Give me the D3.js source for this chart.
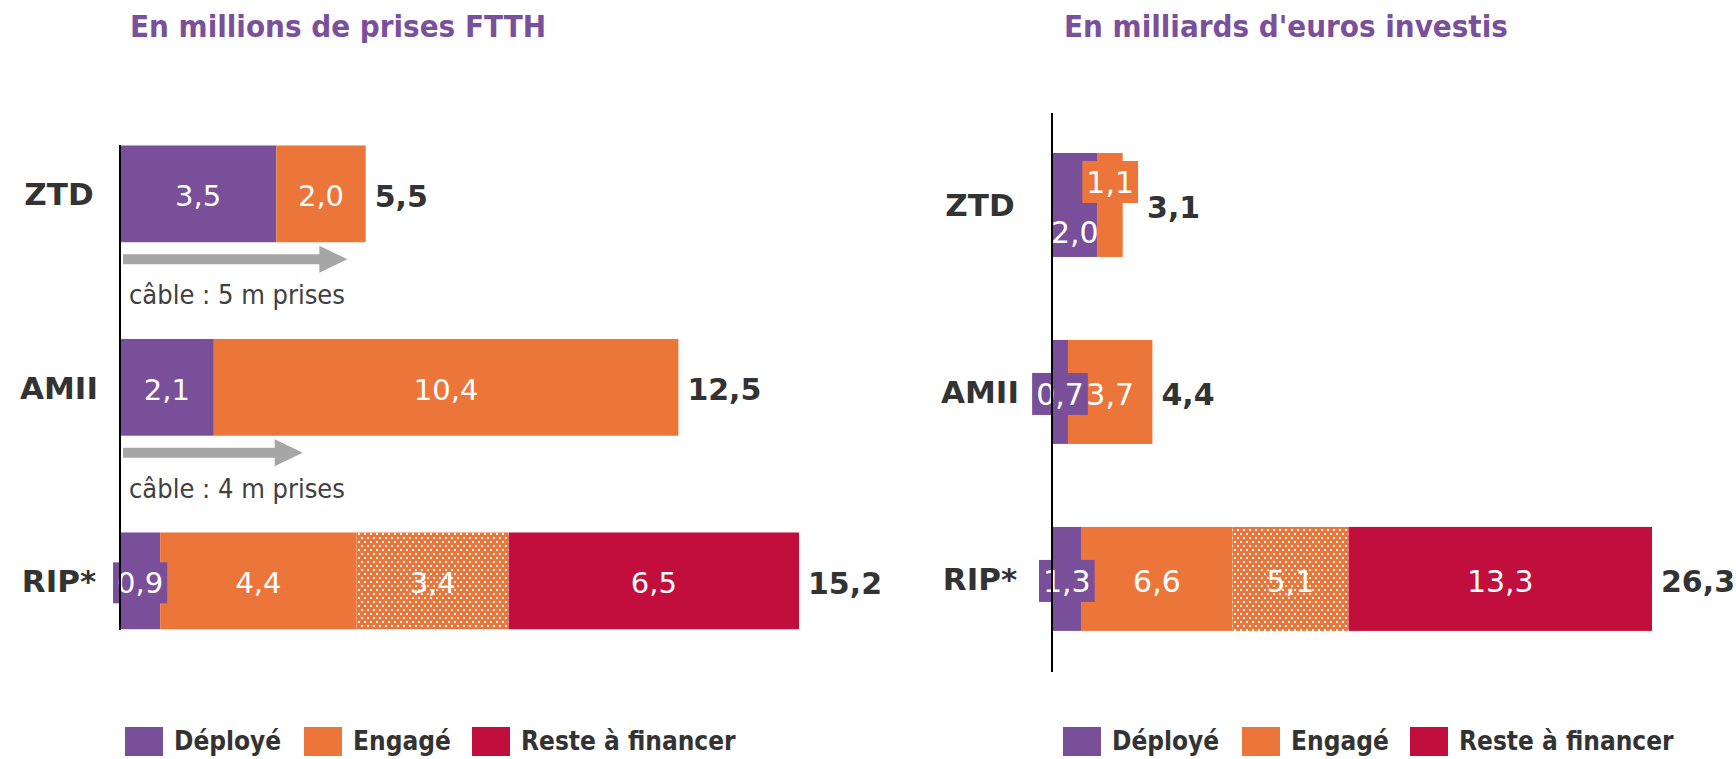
<!DOCTYPE html>
<html>
<head>
<meta charset="utf-8">
<script src="https://cdn.jsdelivr.net/npm/d3@7"></script>
<style>
  html, body { margin: 0; padding: 0; background: #ffffff; }
  svg { display: block; }
  text { font-family: "DejaVu Sans Condensed", "DejaVu Sans", sans-serif; font-stretch: condensed; }
  text.wide { font-family: "DejaVu Sans", sans-serif; font-stretch: normal; }
</style>
</head>
<body>
<svg id="chart" width="1736" height="759"></svg>
<script>
// ---------- DATA ----------
const categories = ["ZTD", "AMII", "RIP*"];
const legendLabels = ["Déployé", "Engagé", "Reste à financer"];

// Left: millions de prises FTTH
const titlePrises = "En millions de prises FTTH";
const prisesDeploye = [3.5, 2.1, 0.9];
const prisesEngage = [2.0, 10.4, 4.4];
const prisesEngagePointille = [0, 0, 3.4];
const prisesReste = [0, 0, 6.5];
const prisesTotal = [5.5, 12.5, 15.2];
const cableValues = [5, 4, null];
const cableLabels = ["câble : 5 m prises", "câble : 4 m prises", null];

// Right: milliards d'euros investis
const titleEuros = "En milliards d'euros investis";
const eurosDeploye = [2.0, 0.7, 1.3];
const eurosEngage = [1.1, 3.7, 6.6];
const eurosEngagePointille = [0, 0, 5.1];
const eurosReste = [0, 0, 13.3];
const eurosTotal = [3.1, 4.4, 26.3];

// ---------- STYLE ----------
const COL = { purple: "#7A4F99", orange: "#EC753A", red: "#C20E3C", dark: "#333333", title: "#7A4F9B", grey: "#A6A6A6" };
const fr = d3.formatLocale({ decimal: ",", thousands: " ", grouping: [3], currency: ["", " €"] });
const fmt = fr.format(".1f");

const svg = d3.select("#chart");
const defs = svg.append("defs");
const pat = defs.append("pattern").attr("id", "dots").attr("patternUnits", "userSpaceOnUse")
  .attr("width", 6).attr("height", 8);
pat.append("rect").attr("width", 6).attr("height", 8).attr("fill", COL.orange);
pat.append("rect").attr("x", 1).attr("y", 1).attr("width", 2).attr("height", 2).attr("fill", "#fff");
pat.append("rect").attr("x", 4).attr("y", 5).attr("width", 2).attr("height", 2).attr("fill", "#fff");

function drawPanel(cfg) {
  const g = svg.append("g");
  const x = d3.scaleLinear().domain([0, d3.max(cfg.total)]).range(cfg.xRange);
  const y = d3.scaleBand().domain(categories).range(cfg.yRange).paddingInner(cfg.padInner).paddingOuter(0.25);

  // title
  g.append("text").attr("x", cfg.titleX).attr("y", 37).attr("fill", COL.title)
    .attr("font-weight", "bold").attr("font-size", 31).text(cfg.title);

  const seriesDefs = [
    { vals: cfg.deploye, fill: COL.purple, box: COL.purple },
    { vals: cfg.engage, fill: COL.orange, box: COL.orange },
    { vals: cfg.pointille, fill: "url(#dots)", box: COL.orange },
    { vals: cfg.reste, fill: COL.red, box: COL.red }
  ];

  categories.forEach((cat, i) => {
    const y0 = y(cat), bh = y.bandwidth(), cy = y0 + bh / 2;
    let acc = 0;
    const labels = [];
    seriesDefs.forEach(s => {
      const v = s.vals[i];
      if (!v) return;
      const xa = x(acc), xb = x(acc + v);
      g.append("rect").attr("x", xa).attr("y", y0).attr("width", xb - xa).attr("height", bh).attr("fill", s.fill);
      labels.push({ v, cx: (xa + xb) / 2, segW: xb - xa, box: s.box });
      acc += v;
    });
    labels.forEach(l => {
      const t = g.append("text").attr("class", "wide").attr("font-size", cfg.segFont).text(fmt(l.v));
      l.tw = t.node().getComputedTextLength();
      t.remove();
      l.boxed = l.segW < 44;
      l.w = l.boxed ? l.tw + 8 : l.tw;
      l.dy = 0;
    });
    for (let k = 0; k < labels.length - 1; k++) {
      const a = labels[k], b = labels[k + 1];
      if (a.cx + a.w / 2 > b.cx - b.w / 2 + 4) { a.dy = 25; b.dy = -25; }
    }
    let maxRight = x(acc);
    labels.forEach(l => {
      const ly = cy + 2 + l.dy;
      if (l.boxed) {
        const hh = cfg.segFont + 12;
        g.append("rect").attr("x", l.cx - l.w / 2).attr("y", ly - hh / 2)
          .attr("width", l.w).attr("height", hh).attr("fill", l.box);
        maxRight = Math.max(maxRight, l.cx + l.w / 2);
      }
      g.append("text").attr("class", "wide").attr("x", l.cx).attr("y", ly).attr("dy", "0.36em").attr("text-anchor", "middle")
        .attr("fill", "#fff").attr("font-size", cfg.segFont).text(fmt(l.v));
    });
    // total
    g.append("text").attr("class", "wide").attr("x", maxRight + 9).attr("y", cy + 2).attr("dy", "0.36em")
      .attr("fill", COL.dark).attr("font-weight", "bold").attr("font-size", 30).text(fmt(cfg.total[i]));
    // category label
    g.append("text").attr("class", "wide").attr("x", cfg.catX).attr("y", cy).attr("dy", "0.36em").attr("text-anchor", "middle")
      .attr("fill", COL.dark).attr("font-weight", "bold").attr("font-size", 31).text(cat);

    // cable arrows
    if (cfg.cable && cfg.cable[i] != null) {
      const yb = y0 + bh;
      const ax = x(0) + 3, tip = x(cfg.cable[i]) + 4, ay = yb + 17;
      const pts = [[ax, ay - 5], [tip - 28, ay - 5], [tip - 28, ay - 13.5], [tip, ay], [tip - 28, ay + 13.5], [tip - 28, ay + 5], [ax, ay + 5]];
      g.append("path").attr("d", d3.line()(pts) + "Z").attr("fill", COL.grey);
      g.append("text").attr("x", x(0) + 9).attr("y", yb + 62).attr("fill", "#404040")
        .attr("font-size", 27).text(cfg.cableText[i]);
    }
  });

  // axis line
  g.append("line").attr("x1", x(0)).attr("x2", x(0)).attr("y1", cfg.axisY[0]).attr("y2", cfg.axisY[1])
    .attr("stroke", "#000").attr("stroke-width", 2);

  // legend
  const colors = [COL.purple, COL.orange, COL.red];
  const offs = [0, 179, 347];
  legendLabels.forEach((lab, k) => {
    const lx = cfg.legendX + offs[k];
    g.append("rect").attr("x", lx).attr("y", 727).attr("width", 38).attr("height", 29).attr("fill", colors[k]);
    g.append("text").attr("x", lx + 49).attr("y", 741).attr("dy", "0.36em").attr("fill", COL.dark)
      .attr("font-weight", "bold").attr("font-size", 26).text(lab);
  });
}

drawPanel({
  title: titlePrises, titleX: 130,
  deploye: prisesDeploye, engage: prisesEngage, pointille: prisesEngagePointille, reste: prisesReste, total: prisesTotal,
  xRange: [120, 799], yRange: [97.1, 677.6], padInner: 0.5,
  segFont: 29, catX: 59, axisY: [145, 630], legendX: 125,
  cable: cableValues, cableText: cableLabels
});

drawPanel({
  title: titleEuros, titleX: 1064,
  deploye: eurosDeploye, engage: eurosEngage, pointille: eurosEngagePointille, reste: eurosReste, total: eurosTotal,
  xRange: [1052, 1652], yRange: [106.25, 677.65], padInner: 0.444,
  segFont: 30, catX: 980, axisY: [113, 672], legendX: 1063
});
</script>
</body>
</html>
